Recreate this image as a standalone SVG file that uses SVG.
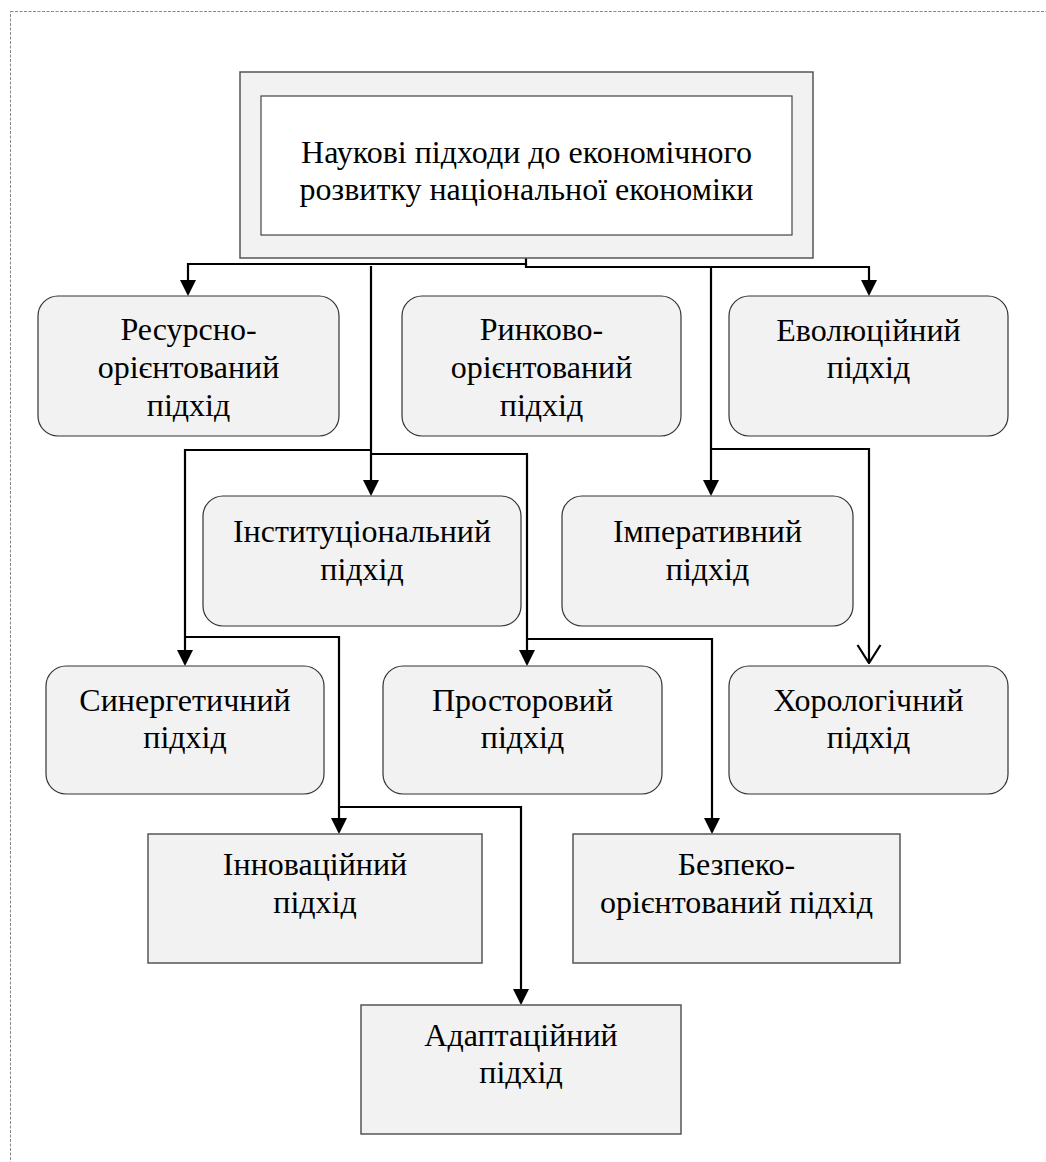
<svg xmlns="http://www.w3.org/2000/svg" width="1046" height="1162" viewBox="0 0 1046 1162" font-family="Liberation Serif, DejaVu Serif, serif">
  <defs>
    <style>
      .frame { fill: none; stroke: #888; stroke-width: 1; stroke-dasharray: 3 1.5; }
      .node { fill: #f2f2f2; stroke: #333; stroke-width: 1.2; }
      .sq { fill: #f2f2f2; stroke: #555; stroke-width: 1.5; }
      .inner { fill: #ffffff; stroke: #444; stroke-width: 1.2; }
      text { font-family: "Liberation Serif", "DejaVu Serif", serif; font-size: 32px; fill: #000; text-anchor: middle; }
      .conn { fill: none; stroke: #000; stroke-width: 2.2; }
    </style>
    <marker id="arr" viewBox="0 0 16 16" markerUnits="userSpaceOnUse" markerWidth="16" markerHeight="16" refX="14" refY="8" orient="auto">
      <path d="M0,0 L16,8 L0,16 z" fill="#000"/>
    </marker>
    <marker id="open" viewBox="0 0 20 26" markerUnits="userSpaceOnUse" markerWidth="20" markerHeight="26" refX="19" refY="13" orient="auto">
      <path d="M1,1.5 L19,13 L1,24.5" fill="none" stroke="#000" stroke-width="2.2"/>
    </marker>
  </defs>

  <rect class="frame" x="10.5" y="11.5" width="1100" height="1200"/>

  <g id="connectors">
    <path class="conn" d="M526,258 V264 H188 V294" marker-end="url(#arr)"/>
    <path class="conn" d="M526,264 V267 H869 V294" marker-end="url(#arr)"/>
    <path class="conn" d="M371,266 V494" marker-end="url(#arr)"/>
    <path class="conn" d="M371,450 H185 V664" marker-end="url(#arr)"/>
    <path class="conn" d="M371,454 H527 V664" marker-end="url(#arr)"/>
    <path class="conn" d="M711,267 V494" marker-end="url(#arr)"/>
    <path class="conn" d="M711,449 H869 V663" marker-end="url(#open)"/>
    <path class="conn" d="M186,637 H339 V832" marker-end="url(#arr)"/>
    <path class="conn" d="M527,639 H712 V832" marker-end="url(#arr)"/>
    <path class="conn" d="M339,807 H521 V1003" marker-end="url(#arr)"/>
  </g>

  <g id="root">
    <rect class="sq" x="240" y="72" width="573" height="186"/>
    <rect class="inner" x="261" y="96" width="531" height="139"/>
    <text x="526.5" y="163">Наукові підходи до економічного</text>
    <text x="526.5" y="200">розвитку національної економіки</text>
  </g>

  <g id="resource">
    <rect class="node" x="38" y="296" width="301" height="140" rx="20"/>
    <text x="188.5" y="340">Ресурсно-</text>
    <text x="188.5" y="378">орієнтований</text>
    <text x="188.5" y="416">підхід</text>
  </g>

  <g id="market">
    <rect class="node" x="402" y="296" width="279" height="140" rx="20"/>
    <text x="541.5" y="340">Ринково-</text>
    <text x="541.5" y="378">орієнтований</text>
    <text x="541.5" y="416">підхід</text>
  </g>

  <g id="evolution">
    <rect class="node" x="729" y="296" width="279" height="140" rx="20"/>
    <text x="868.5" y="341">Еволюційний</text>
    <text x="868.5" y="378">підхід</text>
  </g>

  <g id="institutional">
    <rect class="node" x="203" y="496" width="318" height="130" rx="20"/>
    <text x="362" y="541.5">Інституціональний</text>
    <text x="362" y="580">підхід</text>
  </g>

  <g id="imperative">
    <rect class="node" x="562" y="496" width="291" height="130" rx="20"/>
    <text x="707.5" y="541.5">Імперативний</text>
    <text x="707.5" y="580">підхід</text>
  </g>

  <g id="synergetic">
    <rect class="node" x="46" y="666" width="278" height="128" rx="20"/>
    <text x="185" y="711">Синергетичний</text>
    <text x="185" y="748">підхід</text>
  </g>

  <g id="spatial">
    <rect class="node" x="383" y="666" width="279" height="128" rx="20"/>
    <text x="522.5" y="711">Просторовий</text>
    <text x="522.5" y="748">підхід</text>
  </g>

  <g id="chorological">
    <rect class="node" x="729" y="666" width="279" height="128" rx="20"/>
    <text x="868.5" y="711">Хорологічний</text>
    <text x="868.5" y="748">підхід</text>
  </g>

  <g id="innovation">
    <rect class="sq" x="148" y="834" width="334" height="129"/>
    <text x="315" y="875">Інноваційний</text>
    <text x="315" y="913">підхід</text>
  </g>

  <g id="security">
    <rect class="sq" x="573" y="834" width="327" height="129"/>
    <text x="736.5" y="875">Безпеко-</text>
    <text x="736.5" y="913">орієнтований підхід</text>
  </g>

  <g id="adaptive">
    <rect class="sq" x="361" y="1005" width="320" height="129"/>
    <text x="521" y="1046">Адаптаційний</text>
    <text x="521" y="1083">підхід</text>
  </g>
</svg>
